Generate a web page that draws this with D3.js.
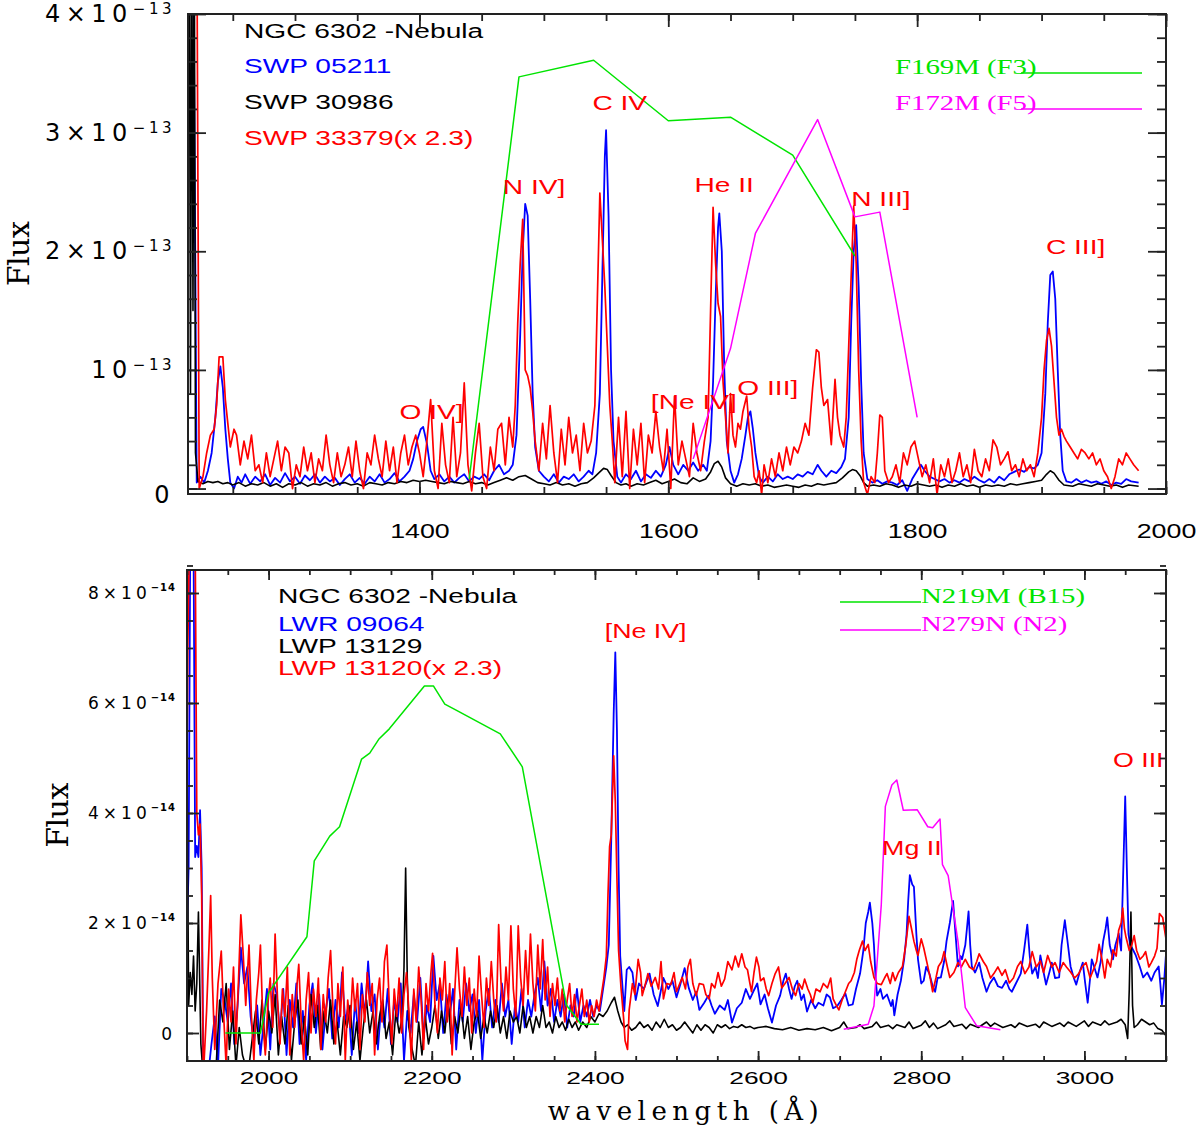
<!DOCTYPE html>
<html>
<head>
<meta charset="utf-8">
<script src="https://cdn.jsdelivr.net/npm/d3@7"></script>
<style>
	body { margin: 0; background: #fff; }
</style>
</head>
<body>
<svg id="chart" width="1200" height="1133"></svg>
<script>

// ---- top panel: SWP spectra (flux in units of 1e-13) ----
const swp05211 = [[1214,5],[1218,5],[1221,0.05],[1224,0.1],[1227,0.05],[1230,0.15],[1233,0.3],[1236,0.6],[1238,0.9],[1240,1.03],[1242,0.85],[1244,0.5],[1246,0.25],[1248,0.05],[1251,0.0],[1254,0.1],[1257,0.05],[1260,0.12],[1264,0.04],[1268,0.1],[1272,0.06],[1276,0.12],[1280,0.03],[1284,0.09],[1288,0.05],[1292,0.13],[1296,0.06],[1300,0.1],[1304,0.04],[1308,0.11],[1312,0.07],[1316,0.12],[1320,0.05],[1324,0.1],[1328,0.06],[1332,0.09],[1336,0.03],[1340,0.08],[1344,0.12],[1348,0.05],[1352,0.09],[1356,0.04],[1360,0.1],[1364,0.06],[1368,0.12],[1372,0.05],[1376,0.08],[1380,0.13],[1384,0.06],[1388,0.1],[1392,0.15],[1395,0.25],[1398,0.4],[1401,0.5],[1403,0.52],[1406,0.38],[1409,0.15],[1412,0.08],[1416,0.12],[1420,0.06],[1424,0.1],[1428,0.05],[1432,0.09],[1436,0.12],[1440,0.06],[1444,0.1],[1448,0.08],[1452,0.12],[1456,0.07],[1460,0.15],[1464,0.2],[1468,0.12],[1472,0.15],[1475,0.2],[1478,0.45],[1481,1.3],[1483,2.0],[1485,2.4],[1487,2.3],[1489,1.6],[1491,0.8],[1493,0.35],[1496,0.15],[1500,0.1],[1504,0.06],[1508,0.12],[1512,0.05],[1516,0.1],[1520,0.08],[1524,0.12],[1528,0.06],[1532,0.1],[1536,0.15],[1539,0.12],[1542,0.3],[1545,0.8],[1547,1.8],[1549,2.8],[1550,3.02],[1552,2.3],[1554,1.0],[1556,0.4],[1559,0.1],[1562,0.05],[1566,0.12],[1570,0.08],[1574,0.15],[1578,0.06],[1582,0.12],[1586,0.09],[1590,0.15],[1594,0.1],[1598,0.2],[1601,0.35],[1604,0.2],[1608,0.12],[1612,0.2],[1616,0.15],[1620,0.22],[1624,0.15],[1628,0.2],[1631,0.15],[1634,0.4],[1636,0.9],[1638,1.6],[1640,2.2],[1641,2.32],[1643,2.0],[1645,1.0],[1647,0.4],[1650,0.15],[1653,0.05],[1656,0.12],[1659,0.25],[1662,0.45],[1664,0.6],[1666,0.65],[1668,0.5],[1670,0.3],[1673,0.1],[1676,0.05],[1680,0.1],[1684,0.06],[1688,0.12],[1692,0.08],[1696,0.1],[1700,0.08],[1704,0.12],[1708,0.1],[1712,0.14],[1716,0.12],[1720,0.2],[1723,0.15],[1727,0.1],[1731,0.15],[1735,0.13],[1739,0.18],[1742,0.25],[1745,0.6],[1747,1.4],[1749,2.0],[1751,2.22],[1753,1.7],[1755,0.9],[1757,0.3],[1760,0.08],[1764,0.05],[1768,0.07],[1772,0.04],[1776,0.06],[1780,0.05],[1784,0.03],[1788,0.07],[1792,-0.02],[1796,0.08],[1800,0.15],[1803,0.2],[1806,0.15],[1810,0.1],[1814,0.08],[1818,0.06],[1822,0.08],[1826,0.05],[1830,0.07],[1834,0.05],[1838,0.08],[1842,0.06],[1846,0.1],[1850,0.07],[1854,0.05],[1858,0.08],[1862,0.05],[1866,0.1],[1870,0.07],[1874,0.12],[1878,0.14],[1882,0.16],[1886,0.14],[1890,0.18],[1894,0.17],[1897,0.2],[1900,0.3],[1903,0.8],[1905,1.4],[1907,1.8],[1909,1.83],[1911,1.6],[1913,1.0],[1915,0.45],[1917,0.15],[1920,0.06],[1924,0.05],[1928,0.08],[1932,0.05],[1936,0.07],[1940,0.05],[1944,0.06],[1948,0.04],[1952,0.06],[1956,0.03],[1960,0.05],[1964,0.04],[1968,0.08],[1972,0.06],[1978,0.05]];

const swp30986 = [[1214,4.6],[1215,5],[1216,0.8],[1217,5],[1218,1.5],[1219,5],[1220,0.3],[1222,0.06],[1226,0.04],[1230,0.06],[1234,0.05],[1238,0.06],[1242,0.04],[1246,0.05],[1250,0.03],[1255,0.05],[1260,0.02],[1265,0.04],[1270,0.03],[1275,0.05],[1280,0.02],[1285,0.04],[1290,0.01],[1295,0.04],[1300,0.03],[1305,0.05],[1310,0.02],[1315,0.04],[1320,0.03],[1325,0.05],[1330,0.02],[1335,0.04],[1340,0.05],[1345,0.03],[1350,0.04],[1355,0.02],[1360,0.05],[1365,0.04],[1370,0.03],[1375,0.05],[1380,0.04],[1385,0.06],[1390,0.05],[1395,0.07],[1400,0.06],[1405,0.07],[1410,0.06],[1415,0.05],[1420,0.04],[1425,0.06],[1430,0.05],[1435,0.04],[1440,0.06],[1445,0.04],[1450,0.05],[1455,0.03],[1460,0.05],[1465,0.07],[1470,0.09],[1475,0.07],[1480,0.1],[1485,0.11],[1490,0.08],[1495,0.05],[1500,0.04],[1505,0.03],[1510,0.05],[1515,0.03],[1520,0.04],[1525,0.02],[1530,0.04],[1535,0.05],[1540,0.09],[1545,0.14],[1548,0.17],[1551,0.16],[1554,0.11],[1558,0.05],[1562,0.03],[1566,0.04],[1570,0.02],[1575,0.04],[1580,0.03],[1585,0.05],[1590,0.07],[1595,0.04],[1600,0.06],[1605,0.08],[1610,0.05],[1615,0.04],[1620,0.09],[1625,0.06],[1630,0.08],[1634,0.14],[1637,0.21],[1640,0.23],[1643,0.18],[1646,0.09],[1650,0.04],[1655,0.02],[1660,0.04],[1665,0.03],[1670,0.04],[1675,0.02],[1680,0.03],[1685,0.01],[1690,0.02],[1695,0.03],[1700,0.02],[1705,0.01],[1710,0.03],[1715,0.02],[1720,0.04],[1725,0.03],[1730,0.04],[1735,0.05],[1740,0.09],[1745,0.14],[1748,0.16],[1751,0.15],[1754,0.11],[1757,0.05],[1760,0.02],[1765,0.03],[1770,0.02],[1775,0.04],[1780,0.03],[1785,0.01],[1790,0.03],[1795,0.02],[1800,0.04],[1805,0.03],[1810,0.02],[1815,0.03],[1820,0.01],[1825,0.03],[1830,0.02],[1835,0.04],[1840,0.02],[1845,0.03],[1850,0.01],[1855,0.03],[1860,0.02],[1865,0.03],[1870,0.02],[1875,0.04],[1880,0.03],[1885,0.04],[1890,0.05],[1895,0.06],[1900,0.07],[1904,0.12],[1907,0.15],[1910,0.13],[1914,0.07],[1918,0.03],[1925,0.02],[1930,0.04],[1935,0.03],[1940,0.02],[1945,0.04],[1950,0.03],[1955,0.02],[1960,0.03],[1965,0.01],[1970,0.03],[1978,0.02]];

const swp33379 = [[1214,5],[1221,5],[1223,0.0],[1226,0.1],[1229,0.3],[1232,0.45],[1235,0.5],[1237,0.7],[1239,1.11],[1242,1.11],[1244,0.75],[1246,0.55],[1248,0.35],[1251,0.5],[1253,0.45],[1256,0.2],[1259,0.4],[1262,0.25],[1265,0.45],[1268,0.15],[1271,0.2],[1274,0.05],[1277,0.3],[1280,0.1],[1283,0.25],[1286,0.4],[1289,0.15],[1292,0.35],[1295,0.3],[1298,0.0],[1301,0.2],[1304,0.1],[1307,0.35],[1310,0.15],[1313,0.3],[1316,0.05],[1319,0.25],[1322,0.15],[1325,0.45],[1328,0.2],[1331,0.05],[1334,0.3],[1337,0.1],[1340,0.2],[1343,0.35],[1346,0.1],[1349,0.4],[1352,0.15],[1355,0.0],[1358,0.3],[1361,0.2],[1364,0.45],[1367,0.25],[1370,0.1],[1373,0.4],[1376,0.15],[1379,0.35],[1382,0.05],[1385,0.3],[1388,0.45],[1391,0.2],[1394,0.35],[1397,0.45],[1400,0.3],[1403,0.1],[1406,0.4],[1409,0.75],[1412,0.15],[1415,0.0],[1418,0.55],[1421,0.2],[1424,0.05],[1427,0.6],[1430,0.1],[1433,0.3],[1436,0.89],[1439,0.2],[1442,-0.02],[1445,0.3],[1448,0.55],[1451,0.1],[1454,0.0],[1457,0.35],[1460,0.15],[1463,0.5],[1466,0.55],[1469,0.2],[1472,0.6],[1475,0.35],[1477,0.7],[1479,1.39],[1481,1.9],[1483,2.27],[1485,1.0],[1487,0.95],[1489,0.85],[1491,0.65],[1493,0.4],[1496,0.15],[1499,0.55],[1502,0.25],[1505,0.7],[1508,0.3],[1511,0.05],[1514,0.5],[1517,0.2],[1520,0.6],[1523,0.3],[1526,0.45],[1529,0.15],[1532,0.55],[1535,0.3],[1538,0.4],[1541,0.7],[1543,1.6],[1545,2.49],[1547,2.1],[1549,1.7],[1551,1.2],[1553,0.7],[1555,0.4],[1557,0.05],[1560,0.6],[1563,0.1],[1566,0.65],[1569,0.0],[1572,0.5],[1575,0.2],[1578,0.55],[1581,0.05],[1584,0.45],[1587,0.3],[1590,0.65],[1593,0.35],[1596,0.15],[1599,0.5],[1602,0.0],[1605,0.78],[1608,0.2],[1611,0.4],[1614,0.25],[1617,0.1],[1620,0.55],[1623,0.3],[1626,0.15],[1629,0.4],[1632,0.6],[1634,1.5],[1636,2.37],[1638,1.9],[1640,1.56],[1642,1.45],[1644,0.9],[1646,0.6],[1648,0.3],[1650,0.8],[1652,0.45],[1654,0.35],[1656,0.55],[1658,0.5],[1660,0.65],[1663,0.78],[1665,0.5],[1667,0.35],[1669,0.1],[1671,0.05],[1673,0.15],[1675,-0.05],[1677,0.2],[1680,0.05],[1683,0.25],[1686,0.1],[1689,0.3],[1692,0.15],[1695,0.35],[1698,0.2],[1701,0.35],[1704,0.3],[1707,0.4],[1710,0.55],[1713,0.45],[1716,0.85],[1719,1.17],[1721,1.15],[1723,0.85],[1725,0.7],[1728,0.75],[1731,0.37],[1734,0.92],[1736,0.6],[1738,0.45],[1741,0.35],[1743,0.6],[1746,1.5],[1749,2.38],[1751,1.9],[1753,1.0],[1755,0.4],[1757,0.05],[1760,-0.05],[1763,0.1],[1766,0.05],[1768,0.3],[1770,0.62],[1772,0.6],[1774,0.15],[1777,0.05],[1780,0.1],[1783,0.2],[1786,0.05],[1789,0.3],[1792,0.2],[1795,0.35],[1798,0.4],[1801,0.25],[1804,0.1],[1807,0.2],[1810,0.05],[1813,0.25],[1816,-0.05],[1819,0.2],[1822,0.1],[1825,0.25],[1828,0.05],[1831,0.15],[1834,0.3],[1837,0.1],[1840,0.2],[1843,0.05],[1846,0.33],[1849,0.15],[1852,0.1],[1855,0.25],[1858,0.15],[1861,0.41],[1864,0.35],[1867,0.2],[1870,0.25],[1873,0.31],[1876,0.15],[1879,0.2],[1882,0.1],[1885,0.25],[1888,0.15],[1891,0.2],[1894,0.1],[1897,0.3],[1900,0.6],[1902,1.0],[1904,1.25],[1906,1.35],[1908,1.2],[1910,0.9],[1912,0.6],[1914,0.45],[1916,0.5],[1918,0.44],[1920,0.4],[1923,0.35],[1926,0.3],[1929,0.25],[1932,0.33],[1935,0.3],[1938,0.25],[1941,0.3],[1944,0.2],[1947,0.25],[1950,0.15],[1953,0.1],[1956,0.0],[1959,0.1],[1962,0.25],[1965,0.2],[1968,0.3],[1971,0.25],[1974,0.2],[1978,0.15]];

// filter throughput curves, scaled onto the flux axis
const f169m = [[1440,0.08],[1480,3.47],[1540,3.61],[1600,3.10],[1650,3.13],[1700,2.81],[1750,1.96]];
const f172m = [[1620,0.25],[1650,1.18],[1670,2.15],[1720,3.11],[1750,2.29],[1770,2.33],[1800,0.60]];

// ---- bottom panel: LWR/LWP spectra (flux in units of 1e-14) ----
const lwr09064 = [[1900,1.9],[1902,3.0],[1904,9],[1908,9],[1910,3.2],[1912,3.4],[1914,3.2],[1916,4.05],[1918,3.0],[1920,-0.8],[1925,-0.9],[1930,-0.2],[1934,0.3],[1938,-0.6],[1942,0.8],[1946,0.6],[1950,0.2],[1954,0.9],[1958,-0.2],[1962,0.5],[1966,1.55],[1970,0.9],[1974,1.2],[1978,0.3],[1982,-0.2],[1986,0.5],[1990,-0.4],[1994,0.2],[1998,0.8],[2002,-0.3],[2006,0.9],[2010,0.7],[2014,0.0],[2018,0.8],[2022,-0.4],[2026,0.6],[2030,0.1],[2034,0.9],[2038,-0.2],[2042,0.4],[2046,-0.5],[2050,0.5],[2054,0.9],[2058,0.0],[2062,0.7],[2066,-0.3],[2070,0.4],[2074,0.8],[2078,-0.1],[2082,0.6],[2086,0.1],[2090,1.1],[2094,0.2],[2098,0.5],[2102,-0.4],[2106,0.6],[2110,0.0],[2114,0.9],[2118,0.3],[2122,1.3],[2126,0.4],[2130,0.7],[2134,-0.3],[2138,0.5],[2142,0.1],[2146,0.8],[2150,-0.2],[2154,0.6],[2158,0.2],[2162,0.9],[2166,-0.5],[2170,0.4],[2174,0.0],[2178,0.7],[2182,0.2],[2186,1.0],[2190,-0.1],[2194,0.5],[2198,0.2],[2202,1.4],[2206,0.6],[2210,0.9],[2214,0.0],[2218,0.7],[2222,0.3],[2226,0.8],[2230,-0.3],[2234,0.6],[2238,0.2],[2242,0.9],[2246,0.4],[2250,0.7],[2254,0.0],[2258,0.6],[2262,-0.5],[2266,0.4],[2270,0.8],[2274,0.1],[2278,0.6],[2282,0.2],[2286,0.9],[2290,0.3],[2294,0.6],[2298,-0.2],[2302,0.5],[2306,0.2],[2310,0.8],[2314,0.1],[2318,0.6],[2322,0.3],[2326,0.7],[2330,1.0],[2334,0.4],[2338,1.3],[2342,0.5],[2346,0.8],[2350,0.2],[2354,0.6],[2358,0.3],[2362,0.7],[2366,0.1],[2370,0.5],[2374,0.3],[2378,0.8],[2382,0.2],[2386,0.5],[2390,0.3],[2394,0.6],[2398,0.3],[2402,0.5],[2406,0.4],[2410,0.8],[2414,1.2],[2417,1.6],[2420,3.5],[2423,5.8],[2425,6.92],[2427,5.5],[2429,3.0],[2431,1.4],[2434,0.8],[2436,0.4],[2439,1.15],[2442,1.2],[2446,1.1],[2450,0.6],[2454,0.9],[2460,0.8],[2467,1.08],[2472,0.7],[2477,0.49],[2484,1.0],[2490,0.8],[2495,0.95],[2500,0.65],[2505,0.9],[2510,1.18],[2515,0.82],[2520,0.6],[2524,0.75],[2528,0.42],[2534,0.55],[2539,0.68],[2543,0.5],[2547,0.35],[2553,0.5],[2559,0.42],[2563,0.6],[2568,0.19],[2574,0.45],[2580,0.55],[2585,0.8],[2590,0.62],[2594,0.75],[2599,0.9],[2603,0.52],[2608,0.7],[2612,0.45],[2617,0.19],[2622,0.5],[2627,0.68],[2631,0.95],[2634,1.08],[2638,0.8],[2641,0.62],[2645,0.85],[2648,0.95],[2653,0.6],[2656,0.7],[2660,0.39],[2665,0.6],[2670,0.45],[2674,0.55],[2680,0.5],[2684,0.7],[2688,0.65],[2692,0.45],[2697,0.49],[2702,0.6],[2707,0.72],[2711,0.5],[2716,0.52],[2720,0.8],[2725,1.08],[2729,1.5],[2732,2.0],[2735,2.2],[2737,2.37],[2740,2.0],[2742,1.61],[2744,1.0],[2746,0.68],[2750,0.8],[2753,0.62],[2758,0.7],[2763,0.49],[2765,0.6],[2767,0.32],[2771,0.7],[2775,0.95],[2779,1.34],[2782,1.8],[2784,2.4],[2786,2.87],[2789,2.7],[2791,2.66],[2794,1.8],[2796,1.34],[2800,0.9],[2803,0.95],[2806,1.2],[2810,1.08],[2814,0.85],[2817,0.75],[2820,1.0],[2824,1.01],[2828,1.3],[2831,1.67],[2835,2.0],[2839,2.4],[2842,1.8],[2845,1.21],[2848,1.4],[2850,1.34],[2854,1.6],[2856,1.9],[2858,2.21],[2860,1.6],[2862,1.21],[2866,1.1],[2871,1.28],[2875,1.0],[2880,0.75],[2884,0.9],[2889,1.01],[2894,0.85],[2899,0.82],[2904,0.95],[2908,0.8],[2911,0.75],[2916,0.9],[2922,1.08],[2926,1.5],[2930,1.97],[2933,1.4],[2936,1.08],[2940,1.2],[2943,1.0],[2946,1.41],[2950,1.1],[2953,0.88],[2957,1.1],[2960,1.28],[2964,1.0],[2969,1.01],[2972,1.6],[2976,2.05],[2979,1.7],[2983,1.21],[2987,1.0],[2990,0.88],[2994,1.1],[2998,1.28],[3001,0.9],[3004,0.55],[3007,1.0],[3009,1.34],[3012,1.2],[3016,1.01],[3020,1.3],[3023,1.67],[3026,1.9],[3028,2.1],[3031,1.6],[3035,1.34],[3038,1.6],[3042,1.81],[3045,1.5],[3047,2.6],[3050,4.3],[3052,3.0],[3054,1.8],[3056,1.61],[3060,1.5],[3063,1.41],[3068,1.2],[3072,1.01],[3077,1.1],[3082,0.95],[3086,1.1],[3091,1.21],[3093,0.9],[3095,0.52],[3098,1.0],[3100,1.44]];

const lwp13129 = [[1900,5.0],[1902,0.5],[1904,1.1],[1906,0.7],[1908,1.4],[1910,0.4],[1912,0.9],[1914,2.2],[1917,-0.2],[1920,-0.8],[1925,-0.7],[1930,-0.6],[1935,-0.8],[1940,0.6],[1944,0.2],[1948,0.9],[1952,-0.3],[1956,0.4],[1960,-0.6],[1964,0.1],[1968,-0.4],[1972,-0.6],[1976,-0.6],[1980,-0.1],[1984,0.4],[1988,-0.2],[1992,0.6],[1996,-0.3],[2000,0.4],[2004,0.0],[2008,0.7],[2012,-0.4],[2016,0.3],[2020,-0.2],[2024,0.5],[2028,-0.5],[2032,0.2],[2036,0.6],[2040,-0.2],[2044,0.3],[2048,-0.4],[2052,0.7],[2056,0.1],[2060,0.5],[2064,-0.3],[2068,0.4],[2072,0.0],[2076,0.6],[2080,-0.2],[2084,0.2],[2088,-0.4],[2092,0.3],[2096,0.1],[2100,0.5],[2104,-0.3],[2108,0.2],[2112,-0.5],[2116,0.1],[2120,0.6],[2124,0.0],[2128,0.4],[2132,-0.2],[2136,0.3],[2140,0.6],[2144,-0.1],[2148,0.2],[2152,-0.4],[2156,0.4],[2160,0.0],[2164,0.3],[2166,1.2],[2168,3.0],[2170,1.0],[2172,0.1],[2176,-0.3],[2180,-0.6],[2184,0.2],[2188,-0.4],[2192,0.3],[2196,-0.2],[2200,0.1],[2204,0.5],[2208,-0.1],[2212,0.4],[2216,0.0],[2220,0.6],[2224,-0.2],[2228,0.3],[2232,0.0],[2236,0.5],[2240,-0.1],[2244,0.3],[2248,-0.3],[2252,0.2],[2256,0.4],[2260,-0.1],[2264,0.3],[2268,0.0],[2272,0.4],[2276,0.1],[2280,0.5],[2284,0.0],[2288,0.3],[2292,-0.1],[2296,0.4],[2300,0.2],[2304,0.3],[2308,0.0],[2312,0.5],[2316,0.1],[2320,0.3],[2324,0.0],[2328,0.3],[2332,0.1],[2336,0.5],[2340,0.1],[2344,0.2],[2348,0.0],[2352,0.3],[2356,0.1],[2360,0.2],[2364,0.05],[2368,0.25],[2372,0.1],[2376,0.2],[2380,0.05],[2385,0.2],[2390,0.1],[2395,0.3],[2400,0.2],[2405,0.35],[2410,0.3],[2415,0.4],[2420,0.55],[2424,0.65],[2428,0.4],[2432,0.2],[2436,0.1],[2440,0.15],[2445,0.05],[2450,0.1],[2455,0.2],[2460,0.1],[2465,0.15],[2470,0.05],[2475,0.2],[2480,0.1],[2485,0.25],[2490,0.1],[2495,0.15],[2500,0.05],[2505,0.1],[2510,0.2],[2515,0.1],[2520,0.0],[2525,0.15],[2530,0.05],[2535,0.15],[2540,0.1],[2545,0.0],[2550,0.15],[2555,0.1],[2560,0.15],[2565,0.08],[2570,0.12],[2575,0.1],[2580,0.15],[2585,0.1],[2590,0.12],[2595,0.08],[2600,0.1],[2610,0.12],[2620,0.08],[2630,0.06],[2640,0.1],[2650,0.05],[2660,0.08],[2670,0.06],[2680,0.1],[2690,0.04],[2700,0.1],[2705,0.2],[2710,0.08],[2720,0.1],[2725,0.15],[2730,0.08],[2740,0.12],[2745,0.2],[2750,0.1],[2760,0.14],[2765,0.08],[2770,0.15],[2780,0.1],[2785,0.2],[2790,0.08],[2800,0.14],[2805,0.22],[2810,0.1],[2815,0.18],[2820,0.08],[2830,0.15],[2835,0.22],[2840,0.12],[2850,0.16],[2855,0.08],[2860,0.16],[2870,0.1],[2880,0.2],[2885,0.12],[2890,0.18],[2900,0.1],[2910,0.15],[2915,0.1],[2920,0.18],[2930,0.12],[2940,0.16],[2945,0.1],[2950,0.2],[2960,0.12],[2970,0.18],[2975,0.12],[2980,0.2],[2990,0.12],[3000,0.22],[3005,0.12],[3010,0.2],[3020,0.14],[3025,0.22],[3030,0.15],[3040,0.2],[3045,0.25],[3050,0.15],[3053,-0.1],[3055,0.8],[3057,2.2],[3059,0.5],[3061,0.1],[3065,0.15],[3070,0.25],[3075,0.2],[3080,0.15],[3085,0.18],[3090,0.08],[3095,0.05],[3100,-0.05]];

const lwp13120 = [[1900,5.0],[1901,7],[1903,9],[1910,9],[1912,4.0],[1914,3.6],[1916,3.8],[1918,2.5],[1920,-0.8],[1924,0.4],[1927,1.6],[1929,2.5],[1931,1.0],[1934,-0.3],[1938,0.9],[1942,1.49],[1945,0.3],[1948,-0.6],[1951,0.8],[1954,0.2],[1957,1.2],[1960,-0.2],[1963,0.9],[1966,2.15],[1969,1.4],[1972,0.5],[1976,1.6],[1979,0.3],[1982,-0.5],[1985,0.6],[1988,1.1],[1990,1.6],[1993,0.2],[1996,-0.4],[1999,0.5],[2002,1.0],[2005,0.1],[2008,1.8],[2011,0.6],[2014,-0.2],[2017,0.8],[2020,0.3],[2023,1.2],[2026,-0.4],[2029,0.7],[2032,0.1],[2035,0.9],[2037,1.25],[2040,0.2],[2043,-0.5],[2046,0.6],[2049,1.1],[2052,0.0],[2055,0.8],[2058,0.3],[2061,1.0],[2064,-0.3],[2067,0.7],[2070,0.2],[2073,1.0],[2076,1.5],[2079,0.4],[2082,-0.2],[2085,0.9],[2088,0.3],[2091,1.2],[2094,-0.5],[2097,0.6],[2100,0.1],[2103,1.0],[2106,0.4],[2109,0.9],[2112,-0.3],[2115,0.7],[2118,0.2],[2121,1.1],[2124,0.5],[2127,0.9],[2130,-0.4],[2133,0.6],[2136,1.0],[2139,0.2],[2142,1.3],[2145,1.6],[2148,0.5],[2151,-0.2],[2154,0.8],[2157,0.3],[2160,1.0],[2163,0.0],[2166,0.7],[2169,1.1],[2172,0.4],[2175,-0.5],[2178,0.8],[2181,0.2],[2184,1.2],[2187,0.6],[2190,-0.3],[2193,0.9],[2196,0.4],[2199,1.1],[2201,1.45],[2204,0.5],[2207,0.0],[2210,1.0],[2213,0.6],[2216,1.3],[2219,0.2],[2222,0.9],[2225,-0.4],[2228,0.7],[2231,1.55],[2234,0.8],[2237,0.3],[2240,1.2],[2243,0.5],[2246,1.0],[2249,0.0],[2252,0.8],[2255,0.3],[2258,1.4],[2261,0.7],[2264,0.1],[2267,1.0],[2270,0.5],[2273,1.3],[2276,0.6],[2279,0.2],[2282,1.97],[2285,0.9],[2288,0.4],[2291,1.2],[2294,0.6],[2297,1.95],[2300,0.8],[2303,0.3],[2306,1.95],[2309,1.0],[2312,0.5],[2315,1.5],[2318,0.7],[2321,1.8],[2324,0.9],[2327,0.4],[2330,1.6],[2333,0.8],[2336,1.7],[2339,0.6],[2342,1.2],[2345,0.3],[2348,0.9],[2351,0.5],[2354,1.0],[2357,0.4],[2360,0.8],[2363,0.2],[2366,0.6],[2369,0.9],[2372,0.3],[2375,0.7],[2378,0.2],[2381,0.5],[2384,0.8],[2387,0.3],[2390,0.6],[2393,0.2],[2396,0.5],[2399,0.3],[2402,0.6],[2405,0.4],[2408,0.7],[2411,1.0],[2414,1.4],[2416,2.5],[2418,3.39],[2420,3.6],[2423,5.04],[2425,4.2],[2427,2.8],[2429,1.5],[2432,0.82],[2435,0.3],[2437,-0.14],[2440,-0.3],[2442,0.42],[2446,0.9],[2449,0.7],[2453,1.34],[2456,1.1],[2458,0.68],[2462,0.9],[2465,1.08],[2469,0.85],[2474,1.01],[2478,0.8],[2481,1.3],[2484,0.62],[2488,0.9],[2493,0.88],[2497,1.1],[2500,0.75],[2504,0.9],[2507,1.01],[2511,0.8],[2514,1.2],[2517,1.34],[2520,0.9],[2524,0.68],[2528,0.9],[2533,0.88],[2536,0.7],[2540,0.62],[2543,0.9],[2547,0.82],[2551,1.1],[2555,0.85],[2559,0.98],[2563,1.3],[2568,1.15],[2572,1.4],[2576,1.2],[2580,1.44],[2584,1.2],[2587,1.15],[2590,0.9],[2592,0.75],[2595,1.1],[2598,1.38],[2601,1.2],[2603,0.95],[2607,1.0],[2610,0.8],[2613,0.68],[2617,0.9],[2621,1.08],[2625,1.2],[2629,0.82],[2633,0.9],[2638,1.01],[2642,0.8],[2646,0.68],[2650,0.9],[2654,0.8],[2657,0.98],[2661,0.8],[2664,0.7],[2667,0.55],[2671,0.8],[2676,0.75],[2680,0.9],[2685,0.82],[2689,1.0],[2692,0.62],[2696,0.5],[2699,0.42],[2703,0.6],[2707,0.75],[2711,0.9],[2714,0.95],[2718,1.1],[2721,1.34],[2724,1.5],[2728,1.67],[2731,1.5],[2735,1.61],[2738,1.3],[2742,1.01],[2746,0.9],[2751,0.88],[2755,1.0],[2758,1.08],[2762,0.9],[2765,1.1],[2768,0.95],[2772,1.1],[2777,1.21],[2781,1.6],[2785,2.12],[2788,1.9],[2791,1.67],[2794,1.5],[2796,1.41],[2800,1.71],[2803,1.55],[2807,1.28],[2811,1.0],[2814,0.75],[2818,1.0],[2821,1.21],[2825,1.3],[2828,1.48],[2832,1.2],[2835,1.01],[2840,1.1],[2845,1.28],[2849,1.2],[2854,1.34],[2859,1.2],[2864,1.15],[2868,1.3],[2871,1.44],[2876,1.3],[2880,1.21],[2885,1.0],[2889,1.08],[2894,1.2],[2899,1.05],[2903,1.15],[2908,0.91],[2913,1.0],[2918,1.21],[2922,1.3],[2927,1.08],[2932,1.2],[2936,1.48],[2941,1.2],[2946,1.31],[2950,1.1],[2955,1.41],[2960,1.2],[2964,1.28],[2969,1.1],[2974,1.28],[2978,1.2],[2983,1.11],[2988,1.0],[2993,1.08],[2997,1.2],[3002,1.28],[3007,1.0],[3011,1.15],[3015,1.3],[3018,1.61],[3022,1.3],[3025,1.0],[3028,1.34],[3032,1.2],[3035,1.51],[3039,1.4],[3042,1.87],[3045,2.0],[3047,2.27],[3049,1.9],[3051,1.74],[3055,1.5],[3058,1.6],[3061,1.77],[3064,1.5],[3068,1.34],[3072,1.4],[3075,1.48],[3079,1.2],[3082,1.28],[3086,1.4],[3089,1.54],[3092,2.17],[3096,2.1],[3098,1.9],[3100,1.71]];

const n219m = [[1947,0],[1990,0],[2000,0.73],[2047,1.75],[2056,3.13],[2075,3.58],[2087,3.75],[2114,4.98],[2124,5.09],[2135,5.34],[2148,5.53],[2191,6.31],[2202,6.31],[2216,5.98],[2231,5.86],[2284,5.44],[2311,4.84],[2365,0.51],[2383,0.16],[2405,0.16]];
const n279n = [[2705,0.07],[2735,0.16],[2742,0.49],[2751,2.33],[2756,4.12],[2764,4.51],[2770,4.6],[2778,4.05],[2795,4.06],[2808,3.75],[2814,3.73],[2823,3.89],[2826,3.06],[2833,2.86],[2845,1.67],[2854,0.46],[2868,0.13],[2897,0.06]];

// ---- labels and ticks ----
const topLegend = ['NGC 6302 -Nebula', 'SWP 05211', 'SWP 30986', 'SWP 33379(x 2.3)'];
const bottomLegend = ['NGC 6302 -Nebula', 'LWR 09064', 'LWP 13129', 'LWP 13120(x 2.3)'];
const topFilters = ['F169M (F3)', 'F172M (F5)'];
const bottomFilters = ['N219M (B15)', 'N279N (N2)'];
const topLines = [['O IV]',1384,0.59],['N IV]',1467,2.48],['C IV',1539,3.19],['He II',1621,2.50],['[Ne IV]',1586,0.67],['O III]',1655.5,0.79],['N III]',1747,2.38],['C III]',1903.5,1.98]];
const bottomLines = [['[Ne IV]',2412,7.18],['Mg II',2752,3.23],['O III',3035,4.84]];
const topXTicks = [1400, 1600, 1800, 2000];
const bottomXTicks = [2000, 2200, 2400, 2600, 2800, 3000];
const topYTicks = [0, 1, 2, 3, 4];
const bottomYTicks = [0, 2, 4, 6, 8];

const BLUE = '#0000ff', RED = '#ff0000', BLACK = '#000000', GREEN = '#00e400', MAGENTA = '#ff00ff';
const SANS = '"DejaVu Sans", sans-serif';
const HELV = '"Liberation Sans", Arial, sans-serif';
const SERIF = '"DejaVu Serif", serif';
const TIMES = '"Liberation Serif", "Times New Roman", serif';
// the original plot is stretched sideways; glyphs are widened to match
const STRETCH = 1.34;

const svg = d3.select('#chart');
svg.append('rect').attr('width', 1200).attr('height', 1133).attr('fill', '#fff');

const wideText = function(parent, x, y, str, family, size, color)
{
	return parent.append('text')
		.attr('transform', 'translate(' + x + ',' + y + ') scale(' + STRETCH + ',1)')
		.attr('font-family', family).attr('font-size', size)
		.attr('fill', color)
		.text(str);
};

const makePanel = function(cfg)
{
	const x = d3.scaleLinear().domain(cfg.xDomain).range([cfg.left, cfg.right]);
	const y = d3.scaleLinear().domain(cfg.yDomain).range([cfg.bottom, cfg.top]);
	const clipId = 'clip-' + cfg.name;

	svg.append('clipPath').attr('id', clipId).append('rect')
		.attr('x', cfg.left).attr('y', cfg.top)
		.attr('width', cfg.right - cfg.left).attr('height', cfg.bottom - cfg.top);

	const plot = svg.append('g').attr('clip-path', 'url(#' + clipId + ')');

	// tick marks on all four sides, pointing inward
	const xMinor = d3.range(Math.ceil(cfg.xDomain[0] / 50) * 50, cfg.xDomain[1] + 1, 50);
	const yMinor = d3.range(0, Math.round(cfg.yDomain[1] / cfg.yMinorStep) + 1).map((i) => i * cfg.yMinorStep);
	const axes = [
		[d3.axisBottom(x).tickValues(xMinor).tickSize(-cfg.xMinorLen), 'translate(0,' + cfg.bottom + ')'],
		[d3.axisBottom(x).tickValues(cfg.xTicks).tickSize(-cfg.xMajorLen), 'translate(0,' + cfg.bottom + ')'],
		[d3.axisTop(x).tickValues(xMinor).tickSize(-cfg.xMinorLen), 'translate(0,' + cfg.top + ')'],
		[d3.axisTop(x).tickValues(cfg.xTicks).tickSize(-cfg.xMajorLen), 'translate(0,' + cfg.top + ')'],
		[d3.axisLeft(y).tickValues(yMinor).tickSize(-cfg.yMinorLen), 'translate(' + cfg.left + ',0)'],
		[d3.axisLeft(y).tickValues(cfg.yTicks).tickSize(-cfg.yMajorLen), 'translate(' + cfg.left + ',0)'],
		[d3.axisRight(y).tickValues(yMinor).tickSize(-cfg.yMinorLen), 'translate(' + cfg.right + ',0)'],
		[d3.axisRight(y).tickValues(cfg.yTicks).tickSize(-cfg.yMajorLen), 'translate(' + cfg.right + ',0)']
	];
	axes.forEach(function(a)
	{
		const g = svg.append('g').attr('transform', a[1]).call(a[0].tickFormat(''));
		g.select('.domain').remove();
		g.selectAll('line').attr('stroke', '#222').attr('stroke-width', 1.8);
	});

	// x labels
	const xl = svg.append('g').attr('transform', 'translate(0,' + cfg.bottom + ')')
		.call(d3.axisBottom(x).tickValues(cfg.xTicks).tickFormat(d3.format('d')).tickSize(0).tickPadding(cfg.xLabelPad));
	xl.select('.domain').remove();
	xl.selectAll('text')
		.attr('font-family', cfg.xLabelFont).attr('font-size', cfg.xLabelSize)
		.attr('letter-spacing', cfg.xLabelSpacing)
		.attr('transform', 'scale(' + cfg.xLabelStretch + ',1)')
		.attr('fill', '#000');

	// y labels of the form k x 10^n
	cfg.yTicks.forEach(function(v)
	{
		const t = svg.append('text')
			.attr('x', cfg.left - cfg.yLabelGap)
			.attr('y', y(v) + (v === 0 ? cfg.zeroDrop : cfg.yLabelDrop))
			.attr('text-anchor', 'end')
			.attr('font-family', SANS).attr('fill', '#000');
		if(v === 0)
		{
			t.append('tspan').attr('font-size', cfg.yLabelSize).attr('letter-spacing', cfg.yLabelSpacing).text('0');
			return;
		}
		t.append('tspan').attr('font-size', cfg.yLabelSize).attr('letter-spacing', cfg.yLabelSpacing)
			.text((v === 1 ? '' : v + '\u00d7') + '10');
		t.append('tspan').attr('font-size', cfg.expSize).attr('font-weight', cfg.expWeight)
			.attr('letter-spacing', cfg.expSpacing).attr('dy', -cfg.expRise).text('\u2212' + cfg.exponent);
	});

	// frame
	svg.append('rect')
		.attr('x', cfg.left).attr('y', cfg.top)
		.attr('width', cfg.right - cfg.left).attr('height', cfg.bottom - cfg.top)
		.attr('fill', 'none').attr('stroke', '#222').attr('stroke-width', 2);

	// y title
	svg.append('text')
		.attr('transform', 'translate(' + cfg.titleX + ',' + ((cfg.top + cfg.bottom) / 2) + ') rotate(-90)')
		.attr('text-anchor', 'middle')
		.attr('font-family', SERIF).attr('font-size', 30).attr('letter-spacing', -0.5)
		.attr('fill', '#000').text('Flux');

	return { x: x, y: y, plot: plot };
};

const drawSeries = function(panel, data, color, width)
{
	const line = d3.line().x((d) => panel.x(d[0])).y((d) => panel.y(d[1]));
	panel.plot.append('path')
		.attr('d', line(data))
		.attr('fill', 'none')
		.attr('stroke', color)
		.attr('stroke-width', width)
		.attr('stroke-linejoin', 'round');
};

const drawLineLabels = function(panel, labels, size)
{
	labels.forEach(function(d)
	{
		wideText(panel.plot, panel.x(d[1]), panel.y(d[2]), d[0], HELV, size, RED);
	});
};

// ---------------- top panel ----------------
const topPanel = makePanel({
	name: 'top', left: 188, right: 1166, top: 14, bottom: 494,
	xDomain: [1214, 2000], yDomain: [-0.046, 4],
	xTicks: topXTicks, yTicks: topYTicks, yMinorStep: 0.2,
	xMajorLen: 13, xMinorLen: 7, yMajorLen: 18, yMinorLen: 9,
	xLabelPad: 30, xLabelSize: 20, xLabelSpacing: 0, xLabelFont: HELV, xLabelStretch: STRETCH,
	yLabelGap: 13, yLabelDrop: 8, zeroDrop: 14, yLabelSize: 24, yLabelSpacing: 5.5,
	exponent: '13', expSize: 15, expWeight: 'normal', expSpacing: 3.5, expRise: 8,
	titleX: 29
});

drawSeries(topPanel, swp05211, BLUE, 1.8);
drawSeries(topPanel, swp30986, BLACK, 1.6);
drawSeries(topPanel, swp33379, RED, 1.7);
drawSeries(topPanel, f169m, GREEN, 1.5);
drawSeries(topPanel, f172m, MAGENTA, 1.5);
drawLineLabels(topPanel, topLines, 21);

topLegend.forEach(function(label, i)
{
	wideText(svg, 244, [38, 73, 109, 145][i], label, HELV, 21, [BLACK, BLUE, BLACK, RED][i]);
});

topFilters.forEach(function(label, i)
{
	const color = [GREEN, MAGENTA][i];
	const ly = [73, 109][i];
	wideText(svg, 895, ly + 1, label, TIMES, 21.5, color);
	svg.append('line').attr('x1', 1021).attr('x2', 1142).attr('y1', ly).attr('y2', ly)
		.attr('stroke', color).attr('stroke-width', 1.5);
});

// ---------------- bottom panel ----------------
const bottomPanel = makePanel({
	name: 'bottom', left: 187, right: 1166, top: 570, bottom: 1061,
	xDomain: [1900, 3100], yDomain: [-0.509, 8.418],
	xTicks: bottomXTicks, yTicks: bottomYTicks, yMinorStep: 0.5,
	xMajorLen: 10, xMinorLen: 5, yMajorLen: 12, yMinorLen: 6,
	xLabelPad: 11, xLabelSize: 17, xLabelSpacing: 0, xLabelFont: HELV, xLabelStretch: 1.55,
	yLabelGap: 11, yLabelDrop: 6, zeroDrop: 7, yLabelSize: 17, yLabelSpacing: 4,
	exponent: '14', expSize: 10, expWeight: 'bold', expSpacing: 1, expRise: 8,
	titleX: 68
});

drawSeries(bottomPanel, lwr09064, BLUE, 1.8);
drawSeries(bottomPanel, lwp13129, BLACK, 1.6);
drawSeries(bottomPanel, lwp13120, RED, 1.7);
drawSeries(bottomPanel, n219m, GREEN, 1.5);
drawSeries(bottomPanel, n279n, MAGENTA, 1.5);
drawLineLabels(bottomPanel, bottomLines, 20);

bottomLegend.forEach(function(label, i)
{
	wideText(svg, 278, [603, 631, 653, 675][i], label, HELV, 21, [BLACK, BLUE, BLACK, RED][i]);
});

bottomFilters.forEach(function(label, i)
{
	const color = [GREEN, MAGENTA][i];
	const ly = [602, 630][i];
	svg.append('line').attr('x1', 840).attr('x2', 921).attr('y1', ly).attr('y2', ly)
		.attr('stroke', color).attr('stroke-width', 1.5);
	wideText(svg, 921, ly + 1, label, TIMES, 21.5, color);
});

svg.append('text')
	.attr('x', 686).attr('y', 1120)
	.attr('text-anchor', 'middle')
	.attr('font-family', SERIF).attr('font-size', 26).attr('letter-spacing', 5.5)
	.attr('fill', '#000')
	.text('wavelength (\u00c5)');

</script>
</body>
</html>
